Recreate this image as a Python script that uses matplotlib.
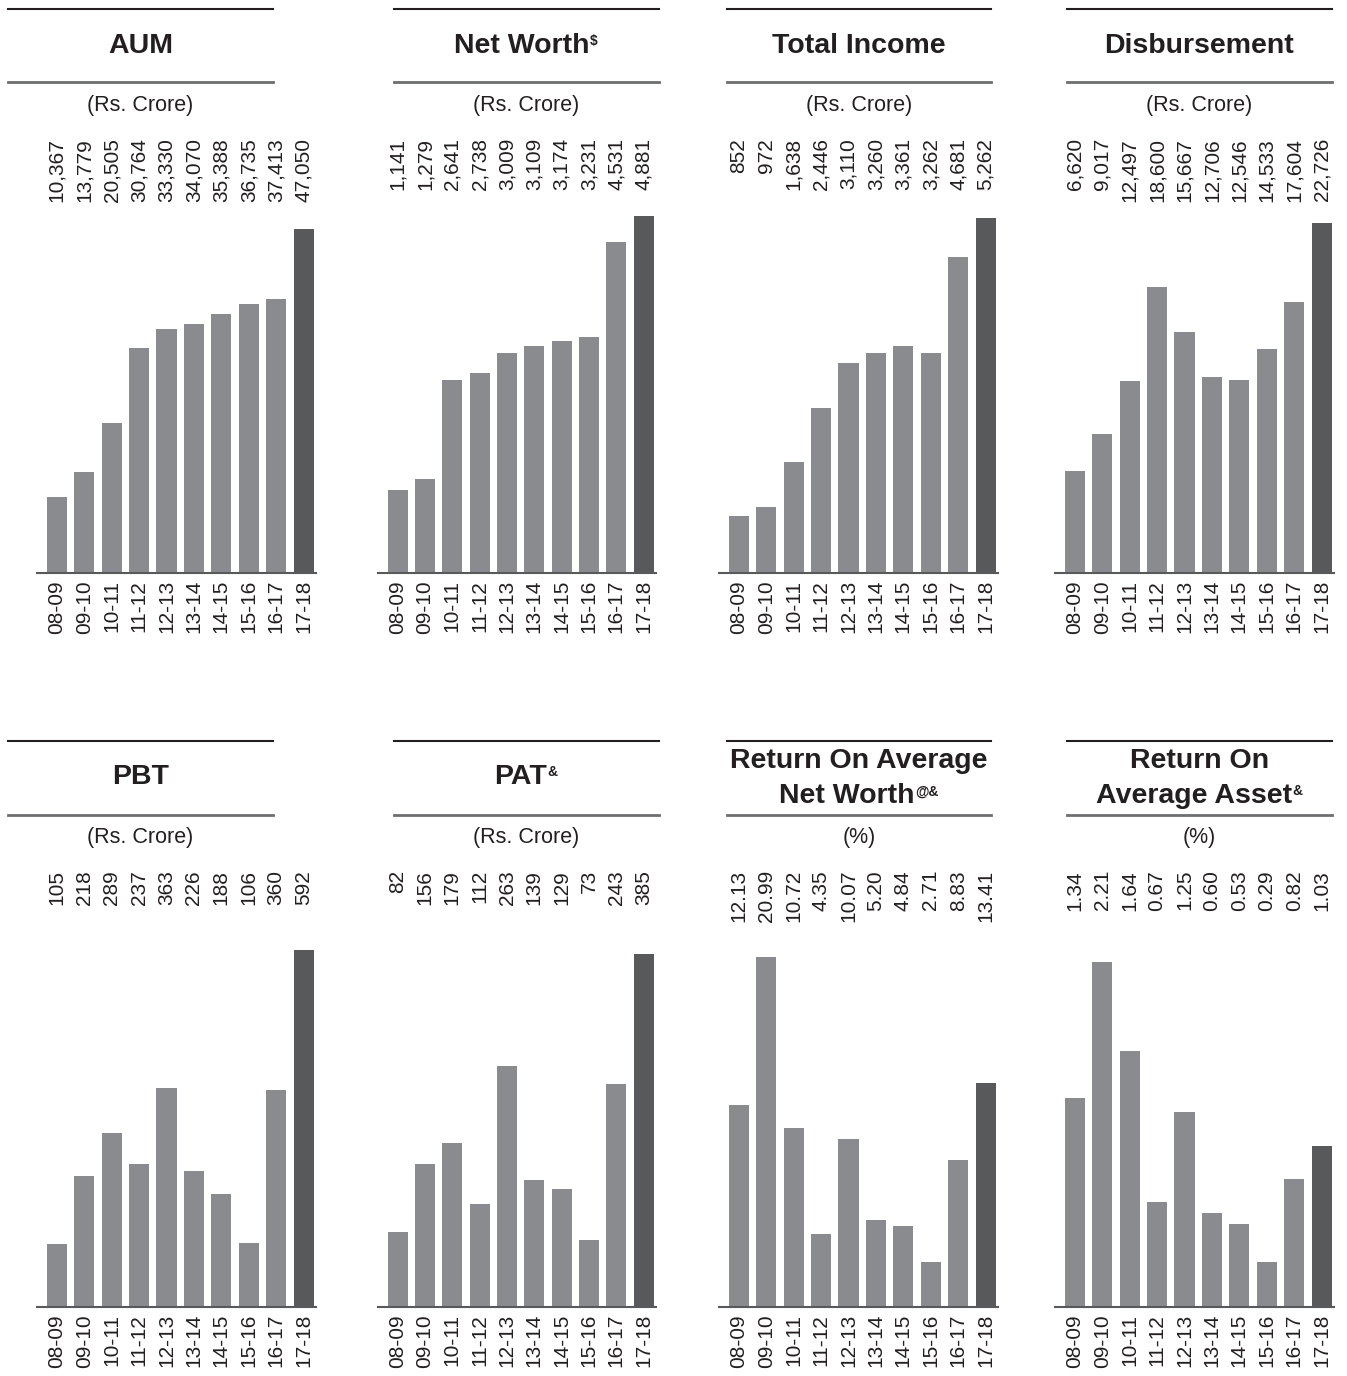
import matplotlib.pyplot as plt
from matplotlib.lines import Line2D
import matplotlib.transforms as mtransforms

plt.rcParams['font.family'] = ['Liberation Sans', 'DejaVu Sans']

years = ["08-09", "09-10", "10-11", "11-12", "12-13", "13-14", "14-15", "15-16", "16-17", "17-18"]

aum = [10367, 13779, 20505, 30764, 33330, 34070, 35388, 36735, 37413, 47050]
net_worth = [1141, 1279, 2641, 2738, 3009, 3109, 3174, 3231, 4531, 4881]
total_income = [852, 972, 1638, 2446, 3110, 3260, 3361, 3262, 4681, 5262]
disbursement = [6620, 9017, 12497, 18600, 15667, 12706, 12546, 14533, 17604, 22726]
pbt = [105, 218, 289, 237, 363, 226, 188, 106, 360, 592]
pat = [82, 156, 179, 112, 263, 139, 129, 73, 243, 385]
ronw = [12.13, 20.99, 10.72, 4.35, 10.07, 5.20, 4.84, 2.71, 8.83, 13.41]
roaa = [1.34, 2.21, 1.64, 0.67, 1.25, 0.60, 0.53, 0.29, 0.82, 1.03]

# (title lines, superscript, unit, values, label format)
panels = [
    (["AUM"], "", "(Rs. Crore)", aum, "{:,.0f}"),
    (["Net Worth"], "$", "(Rs. Crore)", net_worth, "{:,.0f}"),
    (["Total Income"], "", "(Rs. Crore)", total_income, "{:,.0f}"),
    (["Disbursement"], "", "(Rs. Crore)", disbursement, "{:,.0f}"),
    (["PBT"], "", "(Rs. Crore)", pbt, "{:,.0f}"),
    (["PAT"], "&", "(Rs. Crore)", pat, "{:,.0f}"),
    (["Return On Average", "Net Worth"], "@&", "(%)", ronw, "{:.2f}"),
    (["Return On", "Average Asset"], "&", "(%)", roaa, "{:.2f}"),
]

W, H = 1347, 1376
fig = plt.figure(figsize=(W / 100, H / 100), dpi=100)
renderer = fig.canvas.get_renderer()

BAR = "#8a8b8f"
BAR_LAST = "#58595b"
INK = "#231f20"

# layout in pixels
col_lines = [(8, 273), (394, 659), (727, 991), (1067, 1332)]
col_base = [(37, 316), (378, 656), (719, 998), (1055, 1334)]
row_top_line = [9, 741]
row_mid_line = [82, 815]
row_title = [46, 777]
row_sub = [106, 837]
row_vals = [138, 870]
row_base = [573, 1307]
bar_tops = [229, 216, 218, 223, 950, 954, 957, 962]
AX_H = 400


def fx(x):
    return x / W


def fy(y):
    return 1 - y / H


for i, (title, sup, unit, vals, fmt) in enumerate(panels):
    r, c = divmod(i, 4)
    l0, l1 = col_lines[c]
    b0, b1 = col_base[c]
    base = row_base[r]
    cx = (l0 + l1) / 2

    fig.add_artist(Line2D([fx(l0), fx(l1)], [fy(row_top_line[r])] * 2, color=INK, lw=1.5))
    fig.add_artist(Line2D([fx(l0), fx(l1)], [fy(row_mid_line[r])] * 2, color="#6d6e70", lw=2))

    # title, with superscript after the last line
    if len(title) == 1:
        ys = [row_title[r]]
    else:
        ys = [row_title[r] - 16, row_title[r] + 19]
    sup_w = {"": 0, "$": 9, "&": 11, "@&": 24}[sup]
    for k, (line, yy) in enumerate(zip(title, ys)):
        last = k == len(title) - 1
        shift = sup_w / 2 if last else 0
        t = fig.text(fx(cx - shift), fy(yy), line, ha="center", va="center",
                     fontsize=20.5, fontweight="bold", color=INK)
        if last and sup:
            bb = t.get_window_extent(renderer=renderer)
            fig.text(1.0, 0.95, sup, fontsize=10, fontweight="bold", color=INK,
                     ha="left", va="top", transform=mtransforms.BboxTransformTo(bb))

    fig.text(fx(cx), fy(row_sub[r]), unit, ha="center", va="center",
             fontsize=15.5, color=INK)

    ax = fig.add_axes([fx(b0), fy(base), fx(b1) - fx(b0), AX_H / H])
    n = len(vals)
    colors = [BAR] * (n - 1) + [BAR_LAST]
    ax.bar(range(n), vals, width=0.73, color=colors)
    ax.set_xlim(-0.72, n - 1 + 0.45)
    h = base - bar_tops[i]
    ax.set_ylim(0, max(vals) * AX_H / h)
    for s in ["top", "right", "left"]:
        ax.spines[s].set_visible(False)
    ax.spines["bottom"].set_color("#58595b")
    ax.spines["bottom"].set_linewidth(1.5)
    ax.set_yticks([])
    ax.set_xticks(range(n))
    ax.set_xticklabels(years, rotation=90, fontsize=15, color=INK)
    ax.tick_params(axis="x", length=0, pad=5)
    ax.patch.set_alpha(0)

    # value labels above the plot, aligned at their top
    tr = mtransforms.blended_transform_factory(ax.transData, fig.transFigure)
    for j, v in enumerate(vals):
        ax.text(j, fy(row_vals[r]), fmt.format(v), rotation=90, ha="center",
                va="top", fontsize=15, color=INK, transform=tr, clip_on=False)

fig.savefig("out.png", dpi=100)
